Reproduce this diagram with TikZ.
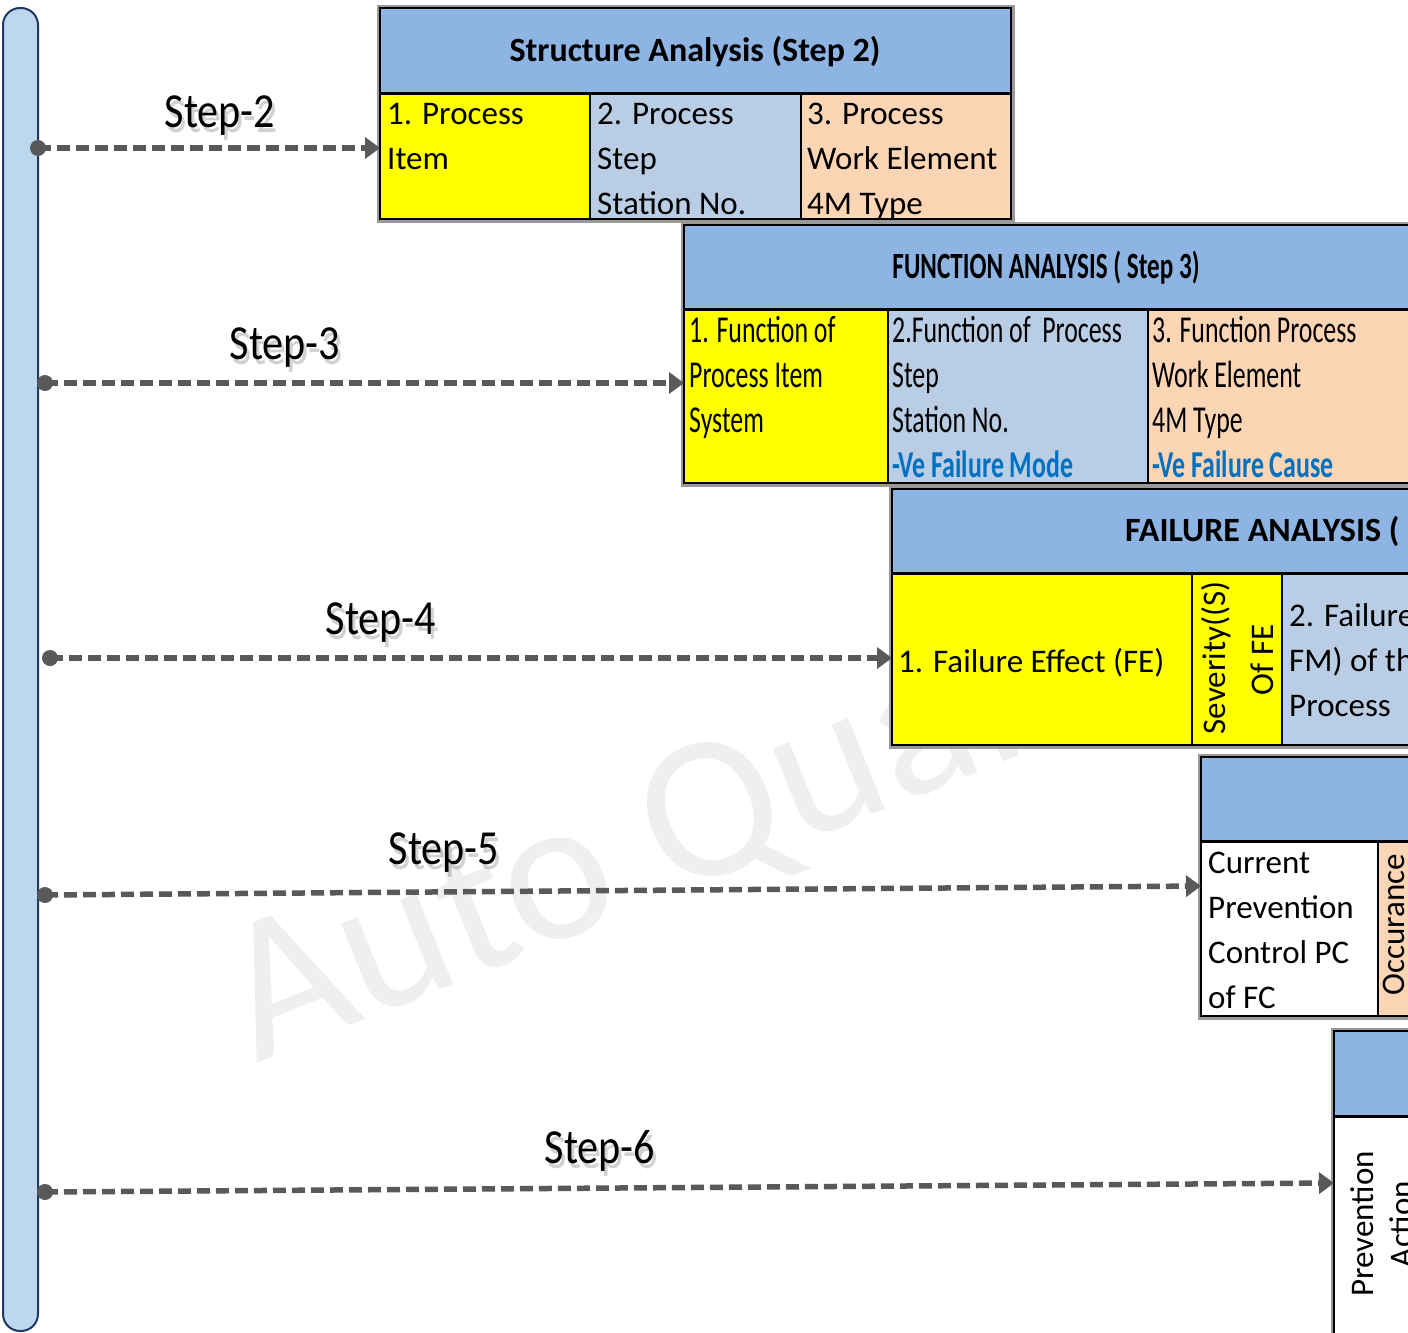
\documentclass[tikz,border=0pt]{standalone}
\usepackage{fontspec}
\setmainfont{Carlito}
\newfontfamily\condfont[FakeStretch=0.68]{Carlito}
\newfontfamily\stepfont[FakeStretch=0.86]{Carlito}
\usetikzlibrary{arrows.meta}
\definecolor{hdr}{HTML}{8EB4E3}
\definecolor{ylw}{HTML}{FFFF00}
\definecolor{lblue}{HTML}{B9CDE5}
\definecolor{peach}{HTML}{FCD5B4}
\definecolor{barfill}{HTML}{BDD7EE}
\definecolor{barline}{HTML}{1F3864}
\definecolor{arrowc}{HTML}{595959}
\definecolor{vblue}{HTML}{0070C0}
\definecolor{wm}{HTML}{EFEFEF}
\begin{document}
\begin{tikzpicture}[x=1pt,y=-1pt,
  tcell/.style={anchor=base west, inner sep=0pt, font=\fontsize{33}{40}\selectfont},
  ccell/.style={anchor=base west, inner sep=0pt, font=\condfont\fontsize{38}{45}\selectfont},
  rcell/.style={rotate=90, inner sep=0pt, font=\fontsize{33}{40}\selectfont},
  hdrtxt/.style={inner sep=0pt, font=\bfseries\fontsize{34}{38}\selectfont},
  gridline/.style={draw=black, line width=2pt},
  hdrline/.style={draw=black, line width=3pt},
  outerline/.style={draw=black, line width=2pt},
  outershadow/.style={draw=black!40, line width=3pt},
  conn/.style={draw=arrowc, line width=5.5pt, dash pattern=on 13pt off 6pt, -{Triangle[length=15pt,width=21pt]}},
  dotmark/.style={fill=arrowc},
  steptxt/.style={inner sep=0pt, font=\stepfont\fontsize{49}{55}\selectfont},
  stepshadow/.style={inner sep=0pt, font=\stepfont\fontsize{49}{55}\selectfont, text=black, opacity=0.18}
]
\useasboundingbox (0,0) rectangle (1408,1333);
\clip (0,0) rectangle (1408,1333);
\fill[white] (0,0) rectangle (1408,1333);

% watermark
\node[anchor=base west, rotate=22, inner sep=0pt, text=wm, font=\fontsize{205}{210}\selectfont] (wmark) at (256,1064) {Auto Quality};

% left bar
\draw[barline, fill=barfill, line width=2pt, rounded corners=17pt] (3,8) rectangle (38,1331);

% ---------- Structure table (Step 2)
\fill[hdr] (380,8) rectangle (1011,93);
\fill[ylw] (380,93) rectangle (590,219);
\fill[lblue] (590,93) rectangle (801,219);
\fill[peach] (801,93) rectangle (1011,219);
\draw[gridline] (590,93) -- (590,219) (801,93) -- (801,219);
\draw[hdrline] (380,93) -- (1011,93);
\draw[outershadow] (378,6) rectangle (1013,221);
\draw[outerline] (380,8) rectangle (1011,219);
\node[hdrtxt] (sh) at (695,52) {Structure Analysis (Step 2)};
\node[tcell] (s11) at (387,124) {1. Process};
\node[tcell] (s12) at (387,169) {Item};
\node[tcell] (s21) at (597,124) {2. Process};
\node[tcell] (s22) at (597,169) {Step};
\node[tcell] (s23) at (597,214) {Station No.};
\node[tcell] (s31) at (807,124) {3. Process};
\node[tcell] (s32) at (807,169) {Work Element};
\node[tcell] (s33) at (807,214) {4M Type};

% ---------- Function table (Step 3)
\fill[hdr] (684,225) rectangle (1430,309);
\fill[ylw] (684,309) rectangle (888,483);
\fill[lblue] (888,309) rectangle (1148,483);
\fill[peach] (1148,309) rectangle (1430,483);
\draw[gridline] (888,309) -- (888,483) (1148,309) -- (1148,483);
\draw[hdrline] (684,309) -- (1430,309);
\draw[outershadow] (682,223) rectangle (1432,485);
\draw[outerline] (684,225) rectangle (1430,483);
\node[inner sep=0pt, font=\condfont\bfseries\fontsize{37}{40}\selectfont] (fh) at (1046,268) {FUNCTION ANALYSIS ( Step 3)};
\node[ccell] (f11) at (689,342) {1. Function of};
\node[ccell] (f12) at (689,387) {Process Item};
\node[ccell] (f13) at (689,432) {System};
\node[ccell] (f21) at (892,342) {2.Function of\ \ Process};
\node[ccell] (f22) at (892,387) {Step};
\node[ccell] (f23) at (892,432) {Station No.};
\node[ccell, font=\condfont\bfseries\fontsize{38}{45}\selectfont, text=vblue] (f24) at (892,477) {-Ve Failure Mode};
\node[ccell] (f31) at (1152,342) {3. Function Process};
\node[ccell] (f32) at (1152,387) {Work Element};
\node[ccell] (f33) at (1152,432) {4M Type};
\node[ccell, font=\condfont\bfseries\fontsize{38}{45}\selectfont, text=vblue] (f34) at (1152,477) {-Ve Failure Cause};

% ---------- Failure table (Step 4)
\fill[hdr] (892,489) rectangle (1430,573);
\fill[ylw] (892,573) rectangle (1282,745);
\fill[lblue] (1282,573) rectangle (1430,745);
\draw[gridline] (1192,573) -- (1192,745) (1282,573) -- (1282,745);
\draw[hdrline] (892,573) -- (1430,573);
\draw[outershadow] (890,487) rectangle (1432,747);
\draw[outerline] (892,489) rectangle (1430,745);
\node[hdrtxt, anchor=west] (ah) at (1125,531) {FAILURE ANALYSIS (};
\node[tcell] (a1) at (898,672) {1. Failure Effect (FE)};
\node[rcell] (a2) at (1216,658) {Severity((S)};
\node[rcell] (a3) at (1262,660) {Of FE};
\node[tcell] (a41) at (1289,626) {2. Failure};
\node[tcell] (a42) at (1289,671) {FM) of th};
\node[tcell] (a43) at (1289,716) {Process};

% ---------- Step 5 table
\fill[hdr] (1201,757) rectangle (1430,841);
\fill[white] (1201,841) rectangle (1378,1016);
\fill[peach] (1378,841) rectangle (1430,1016);
\draw[gridline] (1378,841) -- (1378,1016);
\draw[hdrline] (1201,841) -- (1430,841);
\draw[outershadow] (1199,755) rectangle (1432,1018);
\draw[outerline] (1201,757) rectangle (1430,1016);
\node[tcell] (p1) at (1208,873) {Current};
\node[tcell] (p2) at (1208,918) {Prevention};
\node[tcell] (p3) at (1208,963) {Control PC};
\node[tcell] (p4) at (1208,1008) {of FC};
\node[rcell] (p5) at (1394,925) {Occurance};

% ---------- Step 6 table
\fill[hdr] (1334,1031) rectangle (1430,1116);
\fill[white] (1334,1116) rectangle (1430,1345);
\draw[hdrline] (1334,1116) -- (1430,1116);
\draw[outershadow] (1332,1029) rectangle (1432,1347);
\draw[outerline] (1334,1031) rectangle (1430,1345);
\node[rcell] (q1) at (1362,1224) {Prevention};
\node[rcell] (q2) at (1401,1224) {Action};

% ---------- connectors
\coordinate (d2) at (38,148);  \coordinate (e2) at (380,148);
\coordinate (d3) at (45,383);  \coordinate (e3) at (684,383);
\coordinate (d4) at (50,658);  \coordinate (e4) at (892,658);
\coordinate (d5) at (45,895);  \coordinate (e5) at (1201,886);
\coordinate (d6) at (45,1192); \coordinate (e6) at (1334,1183);
\foreach \k in {2,3,4,5,6}{
  \draw[conn] (d\k) -- (e\k);
  \fill[dotmark] (d\k) circle (8pt);
}

% ---------- step labels with soft shadow
\foreach \nm/\px/\py/\txt in {l2/220/116/Step-2, l3/285/348/Step-3, l4/381/623/Step-4, l5/444/853/Step-5, l6/600/1151/Step-6}{
  \node[stepshadow, xshift=3pt, yshift=-5pt] at (\px,\py) {\txt};
  \node[steptxt] (\nm) at (\px,\py) {\txt};
}
\end{tikzpicture}
\end{document}
